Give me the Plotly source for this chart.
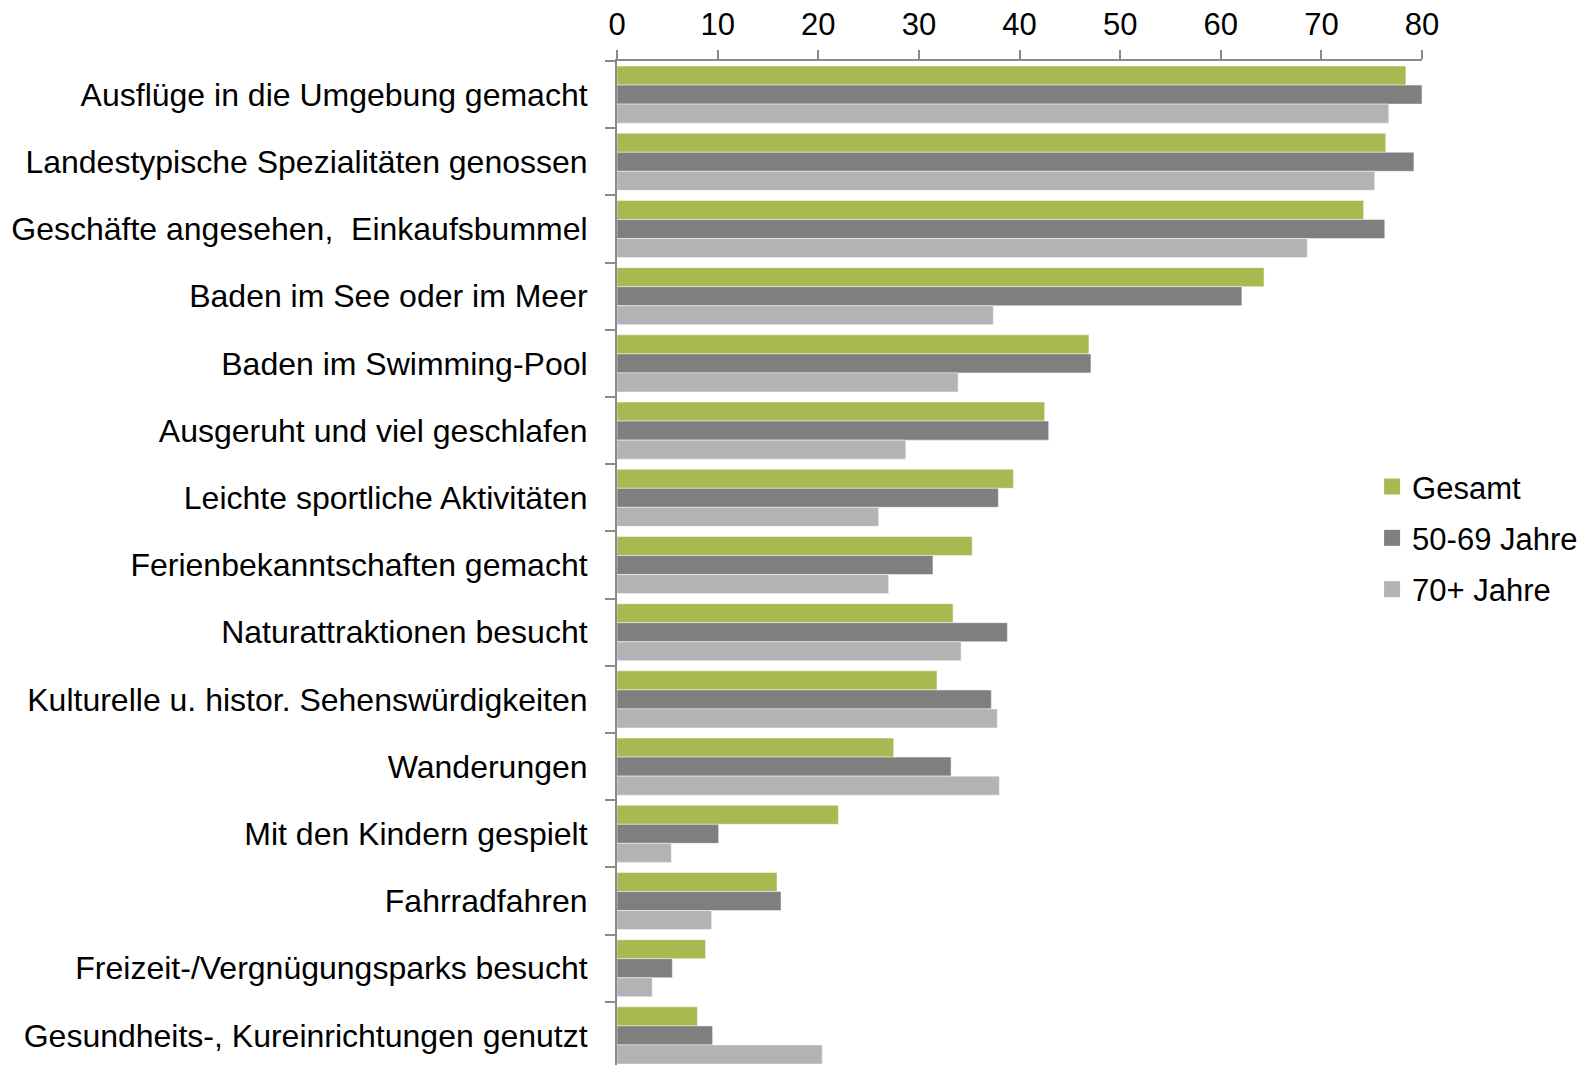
import plotly.graph_objects as go

categories = [
    "Ausflüge in die Umgebung gemacht",
    "Landestypische Spezialitäten genossen",
    "Geschäfte angesehen,\u00a0 Einkaufsbummel",
    "Baden im See oder im Meer",
    "Baden im Swimming-Pool",
    "Ausgeruht und viel geschlafen",
    "Leichte sportliche Aktivitäten",
    "Ferienbekanntschaften gemacht",
    "Naturattraktionen besucht",
    "Kulturelle u. histor. Sehenswürdigkeiten",
    "Wanderungen",
    "Mit den Kindern gespielt",
    "Fahrradfahren",
    "Freizeit-/Vergnügungsparks besucht",
    "Gesundheits-, Kureinrichtungen genutzt",
]
gesamt = [78.4, 76.4, 74.2, 64.3, 46.9, 42.5, 39.4, 35.3, 33.4, 31.8, 27.5, 22.0, 15.9, 8.8, 8.0]
jahre_50_69 = [80.0, 79.2, 76.3, 62.1, 47.1, 42.9, 37.9, 31.4, 38.8, 37.2, 33.2, 10.1, 16.3, 5.5, 9.5]
jahre_70 = [76.7, 75.3, 68.6, 37.4, 33.9, 28.7, 26.0, 27.0, 34.2, 37.8, 38.0, 5.4, 9.4, 3.5, 20.4]
x_ticks = [0, 10, 20, 30, 40, 50, 60, 70, 80]

series = [
    ("Gesamt", gesamt, "#AAB852"),
    ("50-69 Jahre", jahre_50_69, "#7F7F7F"),
    ("70+ Jahre", jahre_70, "#B2B3B4"),
]

fig = go.Figure()
for i, (name, vals, col) in enumerate(series):
    fig.add_trace(go.Bar(
        y=categories, x=vals, name=name, orientation="h",
        marker=dict(color=col, line=dict(color="rgba(255,255,255,0.6)", width=0.8)),
        legendgroup=str(i), showlegend=False,
    ))
for i, (name, vals, col) in enumerate(series):
    fig.add_trace(go.Scatter(
        x=[None], y=[None], mode="markers", name=name,
        marker=dict(symbol="square", size=16, color=col, line=dict(width=0)),
        legendgroup=str(i), showlegend=True,
    ))

font = "Liberation Sans, Arial, sans-serif"
fig.update_layout(
    width=1586, height=1057,
    margin=dict(l=609, r=172, t=53, b=0),
    paper_bgcolor="white", plot_bgcolor="white",
    barmode="group", bargap=0.15, bargroupgap=0,
    font=dict(family=font, size=32, color="black"),
    showlegend=True,
    legend=dict(x=0.938, xanchor="left", y=0.525, yanchor="middle",
                font=dict(size=31, color="black"), tracegroupgap=8,
                itemsizing="trace", bgcolor="rgba(0,0,0,0)"),
)
fig.update_xaxes(
    side="top", range=[0, 80], tickvals=x_ticks, showgrid=False, zeroline=False,
    showline=True, linecolor="#8A8A8A", linewidth=2,
    ticks="outside", ticklen=9, tickcolor="#8A8A8A", tickwidth=1.5,
    tickfont=dict(size=31, color="black"), ticklabelstandoff=3,
    automargin=False,
)
fig.update_yaxes(
    type="category", range=[14.44, -0.5], showgrid=False, zeroline=False,
    showline=True, linecolor="#8A8A8A", linewidth=2,
    ticks="outside", ticklen=10, tickcolor="#8A8A8A", tickwidth=1.5,
    tickson="boundaries", tickfont=dict(size=32, color="black"),
    ticklabelstandoff=21, automargin=False,
)
fig.write_html("out.html")
